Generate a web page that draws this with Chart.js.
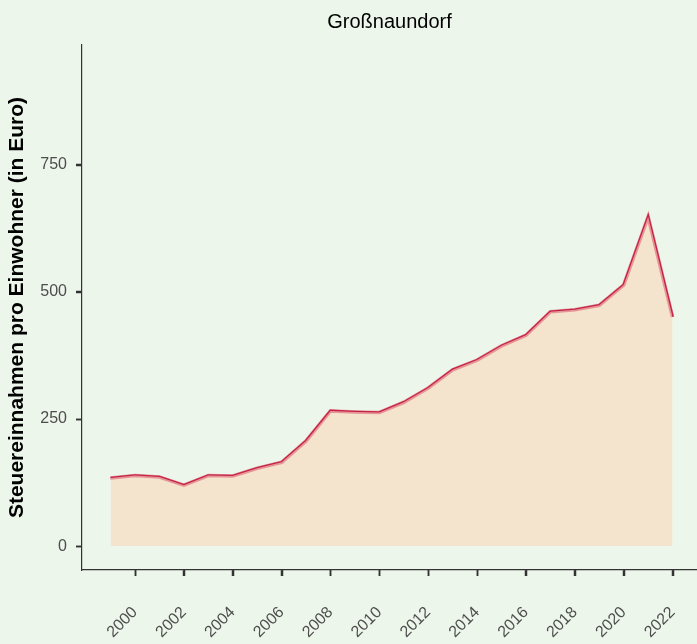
<!DOCTYPE html>
<html>
<head>
<meta charset="utf-8">
<script src="https://cdn.jsdelivr.net/npm/chart.js@4/dist/chart.umd.min.js"></script>
<style>
  html, body { margin: 0; padding: 0; background: #EDF6EB; }
  #wrap { width: 697px; height: 644px; }
</style>
</head>
<body>
<div id="wrap"><canvas id="taxChart"></canvas></div>
<script>
// values
const years = [1999, 2000, 2001, 2002, 2003, 2004, 2005, 2006, 2007, 2008, 2009, 2010,
               2011, 2012, 2013, 2014, 2015, 2016, 2017, 2018, 2019, 2020, 2021, 2022];
const taxPerResident = [134, 139, 136, 120, 139, 138, 153, 165, 207, 266, 264, 263,
                        283, 311, 347, 366, 394, 415, 461, 465, 474, 514, 648, 451];
const xTicks = [2000, 2002, 2004, 2006, 2008, 2010, 2012, 2014, 2016, 2018, 2020, 2022];
const yTicks = [0, 250, 500, 750];

const points = years.map((y, i) => ({ x: y, y: taxPerResident[i] }));
const fontFamily = 'Liberation Sans, Arial, sans-serif';

const bgPlugin = {
    id: 'bg',
    beforeDraw(chart) {
        const ctx = chart.ctx;
        ctx.save();
        ctx.fillStyle = '#EDF6EB';
        ctx.fillRect(0, 0, chart.width, chart.height);
        ctx.restore();
    }
};

// short outward tick marks on both axes, placed through the scales
const tickMarks = {
    id: 'tickMarks',
    afterDraw(chart) {
        const { ctx, chartArea, scales } = chart;
        ctx.save();
        ctx.strokeStyle = '#333333';
        ctx.lineWidth = 1.5;
        ctx.beginPath();
        xTicks.forEach(v => {
            const px = Math.round(scales.x.getPixelForValue(v)) + 0.5;
            ctx.moveTo(px, chartArea.bottom);
            ctx.lineTo(px, chartArea.bottom + 6);
        });
        yTicks.forEach(v => {
            const py = Math.round(scales.y.getPixelForValue(v)) + 0.5;
            ctx.moveTo(chartArea.left - 6, py);
            ctx.lineTo(chartArea.left, py);
        });
        ctx.stroke();
        ctx.restore();
    }
};

const ctx = document.getElementById('taxChart').getContext('2d');
new Chart(ctx, {
    type: 'line',
    data: {
        datasets: [{
            data: points,
            fill: 'origin',
            backgroundColor: '#F5E4CD',
            borderColor: 'rgba(215, 70, 95, 0.5)',
            borderWidth: 3.6,
            pointRadius: 0,
            tension: 0
        }, {
            data: points,
            fill: false,
            borderColor: '#B3002B',
            borderWidth: 2.6,
            pointRadius: 0,
            tension: 0
        }]
    },
    options: {
        responsive: true,
        maintainAspectRatio: false,
        animation: false,
        layout: { padding: 0 },
        scales: {
            x: {
                type: 'linear',
                min: 1997.83,
                max: 2023,
                afterBuildTicks: axis => { axis.ticks = xTicks.map(v => ({ value: v })); },
                afterFit: axis => {
                    axis.height = 74;
                    axis.paddingLeft = 0;
                    axis.paddingRight = 0;
                },
                grid: { drawOnChartArea: false, drawTicks: true, tickLength: 6, color: '#333333', tickColor: '#333333', tickWidth: 1.5 },
                border: { display: true, color: '#333333', width: 1.2 },
                ticks: {
                    autoSkip: false,
                    minRotation: 45,
                    maxRotation: 45,
                    padding: 27,
                    color: '#4D4D4D',
                    font: { family: fontFamily, size: 16 },
                    callback: v => String(v)
                }
            },
            y: {
                min: -47,
                max: 986,
                afterBuildTicks: axis => { axis.ticks = yTicks.map(v => ({ value: v })); },
                afterFit: axis => { axis.width = 82; },
                grid: { drawOnChartArea: false, drawTicks: true, tickLength: 6, color: '#333333', tickColor: '#333333', tickWidth: 1.5 },
                border: { display: true, color: '#333333', width: 1.2 },
                ticks: {
                    padding: 9,
                    color: '#4D4D4D',
                    font: { family: fontFamily, size: 16 }
                },
                title: {
                    display: true,
                    text: 'Steuereinnahmen pro Einwohner (in Euro)',
                    color: '#000000',
                    font: { family: fontFamily, size: 21, weight: 'bold' },
                    padding: { top: 5, bottom: 4 }
                }
            }
        },
        plugins: {
            legend: { display: false },
            tooltip: { enabled: false },
            title: {
                display: true,
                text: 'Großnaundorf',
                fullSize: false,
                color: '#000000',
                font: { family: fontFamily, size: 20, weight: 'normal' },
                padding: { top: 10, bottom: 11 }
            }
        }
    },
    plugins: [bgPlugin, tickMarks]
});
</script>
</body>
</html>
